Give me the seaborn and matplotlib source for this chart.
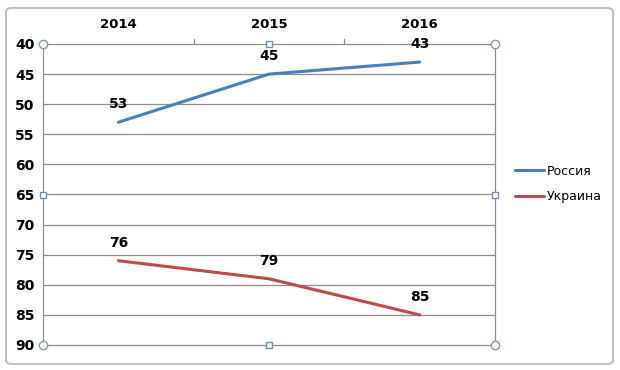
import matplotlib
matplotlib.use("Agg")
import matplotlib.pyplot as plt
import seaborn as sns
import pandas as pd
from matplotlib.patches import FancyBboxPatch
from matplotlib.lines import Line2D

years = ["2014", "2015", "2016"]
russia = [53, 45, 43]
ukraine = [76, 79, 85]
series_names = ["Россия", "Украина"]
colors = ["#4A7EBB", "#BE4B48"]
yticks = [40, 45, 50, 55, 60, 65, 70, 75, 80, 85, 90]

df = pd.DataFrame({
    "x": list(range(len(years))) * 2,
    "year": years * 2,
    "value": russia + ukraine,
    "series": [series_names[0]] * len(years) + [series_names[1]] * len(years),
})

sns.set_style("white")
plt.rcParams["font.family"] = ["DejaVu Sans"]

fig = plt.figure(figsize=(6.2, 3.7), dpi=100)
ax = fig.add_axes([43 / 620, 1 - 345 / 370, (495 - 43) / 620, (345 - 44) / 370])

# outer chart frame
frame = FancyBboxPatch((6 / 620, 6 / 370), 607 / 620, 356 / 370,
                       boxstyle="round,pad=0,rounding_size=0.01",
                       transform=fig.transFigure, fill=False,
                       edgecolor="#BFBFBF", linewidth=1.5, zorder=0)
fig.patches.append(frame)

sns.lineplot(data=df, x="x", y="value", hue="series", palette=colors,
             linewidth=2.2, ax=ax, legend=False)

for name, vals in zip(series_names, [russia, ukraine]):
    for i, v in enumerate(vals):
        ax.annotate(str(v), (i, v), xytext=(0, 8), textcoords="offset points",
                    ha="center", va="bottom", fontsize=10, fontweight="bold",
                    color="black")

ax.set_xlim(-0.5, 2.5)
ax.set_ylim(90, 40)
ax.set_yticks(yticks)
ax.set_yticklabels([str(t) for t in yticks], fontsize=10, fontweight="bold", color="black")
ax.set_xticks(range(len(years)))
ax.set_xticklabels(years, fontsize=9.5, fontweight="bold", color="black")
ax.xaxis.tick_top()
ax.tick_params(axis="x", length=0, pad=9)
ax.tick_params(axis="y", length=0, pad=6)
ax.set_xlabel("")
ax.set_ylabel("")
for t in yticks[1:-1]:
    ax.axhline(t, color="#8C8C8C", linewidth=0.9, zorder=0)
# category boundary ticks on top axis
for b in [0.5, 1.5]:
    ax.plot([b, b], [40, 39.2], color="#8C8C8C", linewidth=0.9, clip_on=False)

for side in ["top", "left", "right", "bottom"]:
    ax.spines[side].set_visible(True)
    ax.spines[side].set_color("#8C8C8C")
    ax.spines[side].set_linewidth(0.9)

# selection handles
for (hx, hy) in [(0, 0), (0, 1), (1, 0), (1, 1)]:
    ax.plot(hx, hy, marker="o", markersize=6, markerfacecolor="white",
            markeredgecolor="#7F9F9F", transform=ax.transAxes, clip_on=False, zorder=10)
for (hx, hy) in [(0.5, 0), (0.5, 1), (0, 0.5), (1, 0.5)]:
    ax.plot(hx, hy, marker="s", markersize=5, markerfacecolor="white",
            markeredgecolor="#6F8FAF", transform=ax.transAxes, clip_on=False, zorder=10)

# legend
handles = [Line2D([], [], color=c, linewidth=2.2) for c in colors]
fig.legend(handles, series_names, loc="center left",
           bbox_to_anchor=(504 / 620, 1 - 184 / 370), frameon=False,
           fontsize=9, handlelength=2.3, handletextpad=0.2, labelspacing=1.0,
           labelcolor="black")

fig.savefig("out.png", dpi=100)
